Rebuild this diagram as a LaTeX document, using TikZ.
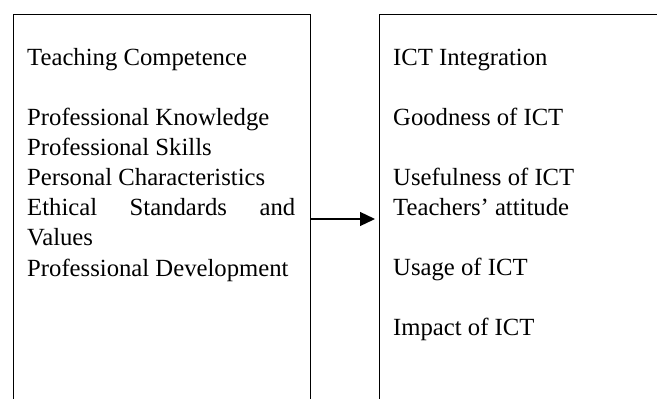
\documentclass[tikz,border=0pt]{standalone}
\usepackage{fontspec}
\setmainfont{Liberation Serif}
\usetikzlibrary{arrows.meta}
\begin{document}
\begin{tikzpicture}[x=1pt,y=-1pt,
  panel/.style={draw, line width=1.3pt, inner sep=0pt, anchor=north west},
  entry/.style={anchor=base west, inner sep=0pt, font=\fontsize{24.7}{30}\selectfont},
  link/.style={line width=1.3pt, -{Triangle[length=15pt,width=14pt]}}]
\useasboundingbox (0,0) rectangle (657,399);
\clip (0,0) rectangle (657,399);
% the two panels run past the lower (and right) edge of the page
\node[panel, minimum width=297pt, minimum height=420pt] (comp) at (13,14) {};
\node[panel, minimum width=320pt, minimum height=420pt] (ict) at (379,14) {};

% teaching competence panel
\node[entry] (c0) at (27,65)    {Teaching Competence};
\node[entry] (c1) at (27,125)   {Professional Knowledge};
\node[entry] (c2) at (27,155.2) {Professional Skills};
\node[entry] (c3) at (27,185.4) {Personal Characteristics};
\node[entry] (c4) at (27,215.6) {\makebox[268pt][s]{Ethical Standards and}};
\node[entry] (c5) at (27,245.8) {Values};
\node[entry] (c6) at (27,276)   {Professional Development};

% ICT integration panel
\node[entry] (i0) at (393,65)  {ICT Integration};
\node[entry] (i1) at (393,125) {Goodness of ICT};
\node[entry] (i2) at (393,185) {Usefulness of ICT};
\node[entry] (i3) at (393,215) {Teachers’ attitude};
\node[entry] (i4) at (393,275) {Usage of ICT};
\node[entry] (i5) at (393,335) {Impact of ICT};

% connector between the panels
\coordinate (level) at (0,219);
\draw[link] (comp.east |- level) -- ([xshift=-4pt]ict.west |- level);
\end{tikzpicture}
\end{document}
